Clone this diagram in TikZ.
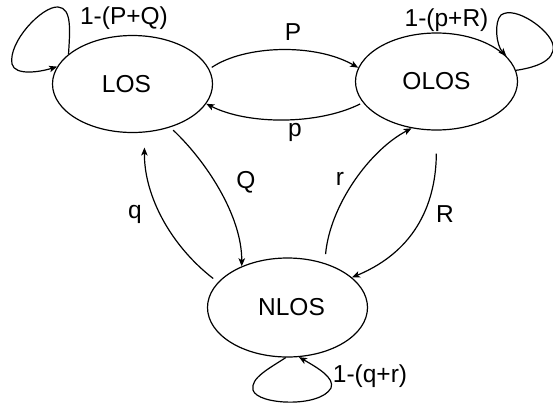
\documentclass[tikz,border=0pt]{standalone}
\usepackage{fontspec}
\setmainfont{Liberation Sans}
\usetikzlibrary{shapes.geometric,arrows.meta}
\begin{document}
\begin{tikzpicture}[x=1pt,y=-1pt,
  state/.style={draw,ellipse,line width=1.2pt,inner sep=0pt,minimum width=160pt,minimum height=97pt,font=\fontsize{24.5}{28}\selectfont},
  lbl/.style={anchor=base,inner sep=0pt,font=\fontsize{24.5}{28}\selectfont},
  conn/.style={line width=1.2pt,-{Stealth[length=8pt,width=6.5pt,inset=2pt]}}]
\useasboundingbox (0,0) rectangle (553,410);
\node[state] (los) at (132.5,84) {\hspace*{-12pt}LOS};
\node[state,minimum width=162pt] (olos) at (436.5,81.5) {OLOS};
\node[state,minimum height=99pt] (nlos) at (287.5,307.5) {\hspace*{8pt}NLOS};
% labels
\node[lbl] (lpq) at (124,24) {1-(P+Q)};
\node[lbl] (lP) at (293,40) {P};
\node[lbl] (lp) at (295,136) {p};
\node[lbl] (lpr) at (446.5,26) {1-(p+R)};
\node[lbl] (lQ) at (246,188) {Q};
\node[lbl] (lq) at (135,218) {q};
\node[lbl] (lr) at (340,185) {r};
\node[lbl] (lR) at (445,222) {R};
\node[lbl] (lqr) at (370,382) {1-(q+r)};
% transitions
\draw[conn,shorten <=3pt] (los.11) .. controls (245,45) and (315,43) .. (olos.170);
\draw[conn,shorten <=3pt] (olos.196) .. controls (318,125) and (248,125) .. (los.345);
\draw[conn,shorten <=4pt] (los.311) .. controls (205,160) and (242,215) .. (nlos.138);
\draw[conn,shorten <=6pt,shorten >=15pt] (nlos.160) .. controls (170,245) and (144,195) .. (los.284);
\draw[conn,shorten <=9pt] (nlos.50) .. controls (330,205) and (370,150) .. (olos.242);
\draw[conn,shorten <=23pt] (olos.270) .. controls (436,200) and (418,250) .. (nlos.25);
% self loops
\draw[conn] (los.155) .. controls (70,30) and (72,8) .. (58,7) .. controls (42,6) and (8,42) .. (12,64) .. controls (15,76) and (40,72) .. (los.167);
\draw[conn] (olos.8) .. controls (532,68) and (556,62) .. (553,45) .. controls (550,30) and (515,5) .. (501,15) .. controls (494,22) and (496,45) .. (olos.20);
\draw[conn] (nlos.268) .. controls (270,368) and (250,378) .. (253,390) .. controls (257,405) and (320,408) .. (331,388) .. controls (335,378) and (318,368) .. (nlos.283);
\end{tikzpicture}
\end{document}
